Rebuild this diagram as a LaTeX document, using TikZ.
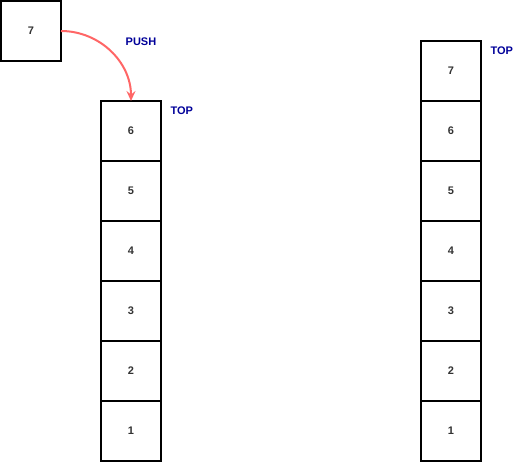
\documentclass[tikz,border=0pt]{standalone}
\usepackage{fontspec}
\setmainfont{Liberation Sans}
\usetikzlibrary{positioning,arrows.meta}
\definecolor{numgray}{HTML}{333333}
\definecolor{topblue}{HTML}{000099}
\definecolor{pushred}{HTML}{FF6666}
\tikzset{
  cell/.style={draw,line width=1.5pt,minimum size=60pt,inner sep=0pt,outer sep=0pt,
    font=\bfseries\fontsize{11}{13}\selectfont,text=numgray},
  toplbl/.style={font=\bfseries\fontsize{11}{13}\selectfont,text=topblue}
}
\begin{document}
\begin{tikzpicture}[x=1pt,y=-1pt]
\useasboundingbox (0,0) rectangle (522,462);
% element to push
\node[cell] (n7) at (31,31) {7};
% stack before push
\node[cell] (a6) at (131,131) {6};
\node[cell,below=0pt of a6] (a5) {5};
\node[cell,below=0pt of a5] (a4) {4};
\node[cell,below=0pt of a4] (a3) {3};
\node[cell,below=0pt of a3] (a2) {2};
\node[cell,below=0pt of a2] (a1) {1};
\node[toplbl,anchor=west] (topa) at ([xshift=6pt,yshift=-10pt]a6.north east) {TOP};
% stack after push
\node[cell] (b7) at (451,71) {7};
\node[cell,below=0pt of b7] (b6) {6};
\node[cell,below=0pt of b6] (b5) {5};
\node[cell,below=0pt of b5] (b4) {4};
\node[cell,below=0pt of b4] (b3) {3};
\node[cell,below=0pt of b3] (b2) {2};
\node[cell,below=0pt of b2] (b1) {1};
\node[toplbl,anchor=west] (topb) at ([xshift=6pt,yshift=-10pt]b7.north east) {TOP};
% push arrow
\draw[pushred,line width=2pt,-{Stealth[length=10pt,width=9pt,inset=3.5pt]}] (n7.east) to[out=0,in=90] (a6.north);
\node[toplbl] (push) at (141,42) {PUSH};
\end{tikzpicture}
\end{document}
